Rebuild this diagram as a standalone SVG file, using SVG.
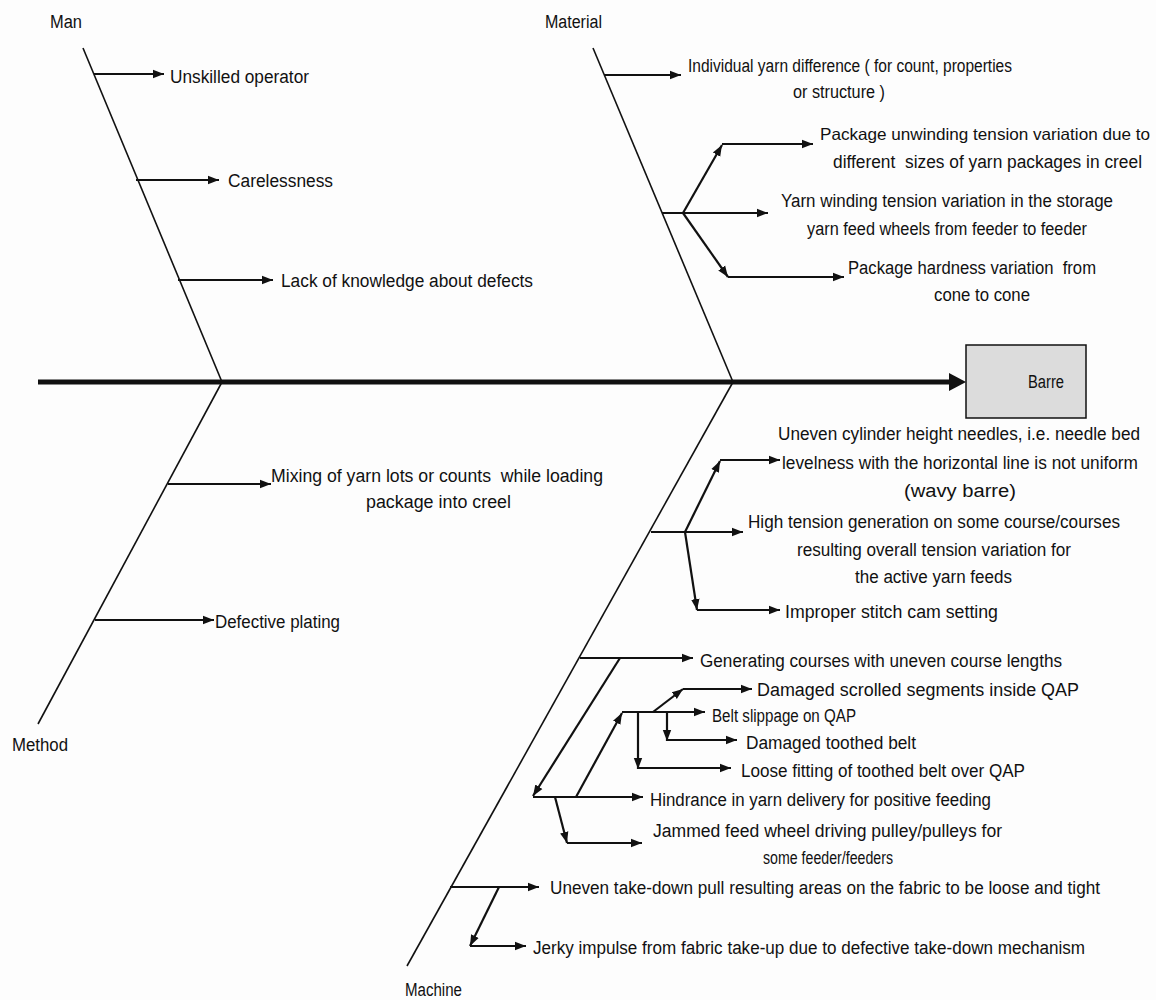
<svg xmlns="http://www.w3.org/2000/svg" width="1156" height="1000" viewBox="0 0 1156 1000">
  <style>
    .t { font-family: "Liberation Sans Narrow", "Liberation Sans", Arial, sans-serif; font-size: 18px; fill: #111; white-space: pre; }
    .sm { font-size: 16.5px; }
    .bone { stroke: #111; stroke-width: 1.6; fill: none; }
    .br { stroke: #111; stroke-width: 2.2; fill: none; marker-end: url(#ah); }
  </style>
  <defs>
    <marker id="ah" markerUnits="userSpaceOnUse" markerWidth="12" markerHeight="10" refX="11" refY="5" orient="auto">
      <path d="M0,0.8 L11,5 L0,9.2 Z" fill="#111"/>
    </marker>
  </defs>

  <rect width="1156" height="1000" fill="#fdfdfd"/>

  <!-- connectors: spine, bones and cause arrows -->
  <g id="connectors">
    <line x1="38" y1="382" x2="952" y2="382" stroke="#111" stroke-width="5"/>
    <polygon points="949,373 966,382 949,391" fill="#111"/>

    <!-- category bones -->
    <line class="bone" x1="83" y1="48" x2="222" y2="382"/>
    <line class="bone" x1="593" y1="48" x2="733" y2="382"/>
    <line class="bone" x1="222" y1="382" x2="38" y2="724"/>
    <line class="bone" x1="733" y1="382" x2="407" y2="966"/>

    <!-- Man -->
    <line class="br" x1="94" y1="74" x2="164" y2="74"/>
    <line class="br" x1="136" y1="180" x2="219" y2="180"/>
    <line class="br" x1="178" y1="280" x2="273" y2="280"/>

    <!-- Material -->
    <line class="br" x1="604" y1="75" x2="681" y2="75"/>
    <line class="br" x1="662" y1="213" x2="768" y2="213"/>
    <line class="br" x1="683" y1="213" x2="722" y2="145"/>
    <line class="br" x1="722" y1="144" x2="813" y2="144"/>
    <line class="br" x1="683" y1="213" x2="728" y2="277"/>
    <line class="br" x1="728" y1="277" x2="844" y2="277"/>

    <!-- Method -->
    <line class="br" x1="168" y1="484" x2="271" y2="484"/>
    <line class="br" x1="95" y1="620" x2="214" y2="620"/>

    <!-- Machine: needle / tension group -->
    <line class="br" x1="651" y1="532" x2="743" y2="532"/>
    <line class="br" x1="685" y1="532" x2="720" y2="461"/>
    <line class="br" x1="720" y1="460" x2="780" y2="460"/>
    <line class="br" x1="685" y1="532" x2="697" y2="610"/>
    <line class="br" x1="697" y1="610" x2="780" y2="610"/>

    <!-- Machine: course length group -->
    <line class="br" x1="580" y1="658" x2="693" y2="658"/>
    <line class="br" x1="620" y1="658" x2="533" y2="796"/>
    <line class="br" x1="533" y1="797" x2="643" y2="797"/>
    <line class="br" x1="576" y1="797" x2="622" y2="713"/>
    <line class="br" x1="622" y1="712" x2="705" y2="712"/>
    <line class="br" x1="653" y1="712" x2="683" y2="689"/>
    <line class="br" x1="683" y1="689" x2="752" y2="689"/>
    <line class="br" x1="667" y1="712" x2="667" y2="741"/>
    <line class="br" x1="667" y1="740" x2="737" y2="740"/>
    <line class="br" x1="638" y1="712" x2="638" y2="769"/>
    <line class="br" x1="638" y1="768" x2="731" y2="768"/>
    <line class="br" x1="555" y1="797" x2="567" y2="843"/>
    <line class="br" x1="567" y1="843" x2="642" y2="843"/>

    <!-- Machine: take-down group -->
    <line class="br" x1="450" y1="887" x2="539" y2="887"/>
    <line class="br" x1="499" y1="887" x2="470" y2="946"/>
    <line class="br" x1="470" y1="946" x2="526" y2="946"/>
  </g>

  <!-- effect -->
  <g id="effect-barre">
    <rect x="966" y="345" width="120" height="73" fill="#dcdcdc" stroke="#111" stroke-width="1.5"/>
    <text class="t" x="1028" y="388" textLength="36" lengthAdjust="spacingAndGlyphs">Barre</text>
  </g>

  <!-- categories -->
  <g id="cat-man"><text class="t" x="50" y="28" textLength="32" lengthAdjust="spacingAndGlyphs">Man</text></g>
  <g id="cat-material"><text class="t" x="545" y="28" textLength="57" lengthAdjust="spacingAndGlyphs">Material</text></g>
  <g id="cat-method"><text class="t" x="12" y="751" textLength="56" lengthAdjust="spacingAndGlyphs">Method</text></g>
  <g id="cat-machine"><text class="t" x="405" y="996" textLength="57" lengthAdjust="spacingAndGlyphs">Machine</text></g>

  <!-- Man causes -->
  <g id="c-unskilled"><text class="t" x="170" y="83" textLength="139" lengthAdjust="spacingAndGlyphs">Unskilled operator</text></g>
  <g id="c-careless"><text class="t" x="228" y="187" textLength="105" lengthAdjust="spacingAndGlyphs">Carelessness</text></g>
  <g id="c-knowledge"><text class="t" x="281" y="287" textLength="252" lengthAdjust="spacingAndGlyphs">Lack of knowledge about defects</text></g>

  <!-- Material causes -->
  <g id="c-yarn-diff">
    <text class="t" x="688" y="72" textLength="324" lengthAdjust="spacingAndGlyphs">Individual yarn difference ( for count, properties</text>
    <text class="t" x="793" y="98" textLength="92" lengthAdjust="spacingAndGlyphs">or structure )</text>
  </g>
  <g id="c-unwinding">
    <text class="t sm" x="820" y="140" textLength="330" lengthAdjust="spacingAndGlyphs">Package unwinding tension variation due to</text>
    <text class="t" x="833" y="168" textLength="309" lengthAdjust="spacingAndGlyphs">different  sizes of yarn packages in creel</text>
  </g>
  <g id="c-winding">
    <text class="t" x="781" y="207" textLength="332" lengthAdjust="spacingAndGlyphs">Yarn winding tension variation in the storage</text>
    <text class="t" x="807" y="235" textLength="280" lengthAdjust="spacingAndGlyphs">yarn feed wheels from feeder to feeder</text>
  </g>
  <g id="c-hardness">
    <text class="t" x="848" y="274" textLength="248" lengthAdjust="spacingAndGlyphs">Package hardness variation  from</text>
    <text class="t" x="934" y="301" textLength="96" lengthAdjust="spacingAndGlyphs">cone to cone</text>
  </g>

  <!-- Method causes -->
  <g id="c-mixing">
    <text class="t" x="271" y="482" textLength="332" lengthAdjust="spacingAndGlyphs">Mixing of yarn lots or counts  while loading</text>
    <text class="t" x="366" y="508" textLength="145" lengthAdjust="spacingAndGlyphs">package into creel</text>
  </g>
  <g id="c-plating"><text class="t" x="215" y="628" textLength="125" lengthAdjust="spacingAndGlyphs">Defective plating</text></g>

  <!-- Machine causes -->
  <g id="c-cylinder">
    <text class="t" x="778" y="440" textLength="362" lengthAdjust="spacingAndGlyphs">Uneven cylinder height needles, i.e. needle bed</text>
    <text class="t" x="782" y="469" textLength="356" lengthAdjust="spacingAndGlyphs">levelness with the horizontal line is not uniform</text>
    <text class="t" x="904" y="497" textLength="112" lengthAdjust="spacingAndGlyphs">(wavy barre)</text>
  </g>
  <g id="c-high-tension">
    <text class="t" x="748" y="528" textLength="372" lengthAdjust="spacingAndGlyphs">High tension generation on some course/courses</text>
    <text class="t" x="797" y="556" textLength="274" lengthAdjust="spacingAndGlyphs">resulting overall tension variation for</text>
    <text class="t" x="855" y="583" textLength="157" lengthAdjust="spacingAndGlyphs">the active yarn feeds</text>
  </g>
  <g id="c-stitch-cam"><text class="t" x="785" y="618" textLength="213" lengthAdjust="spacingAndGlyphs">Improper stitch cam setting</text></g>
  <g id="c-course-length"><text class="t" x="700" y="667" textLength="362" lengthAdjust="spacingAndGlyphs">Generating courses with uneven course lengths</text></g>
  <g id="c-scrolled"><text class="t" x="757" y="696" textLength="322" lengthAdjust="spacingAndGlyphs">Damaged scrolled segments inside QAP</text></g>
  <g id="c-belt-slip"><text class="t" x="712" y="722" textLength="144" lengthAdjust="spacingAndGlyphs">Belt slippage on QAP</text></g>
  <g id="c-toothed"><text class="t" x="746" y="749" textLength="170" lengthAdjust="spacingAndGlyphs">Damaged toothed belt</text></g>
  <g id="c-loose"><text class="t" x="741" y="777" textLength="284" lengthAdjust="spacingAndGlyphs">Loose fitting of toothed belt over QAP</text></g>
  <g id="c-hindrance"><text class="t" x="650" y="806" textLength="341" lengthAdjust="spacingAndGlyphs">Hindrance in yarn delivery for positive feeding</text></g>
  <g id="c-jammed">
    <text class="t" x="653" y="837" textLength="349" lengthAdjust="spacingAndGlyphs">Jammed feed wheel driving pulley/pulleys for</text>
    <text class="t" x="763" y="864" textLength="130" lengthAdjust="spacingAndGlyphs">some feeder/feeders</text>
  </g>
  <g id="c-take-down"><text class="t" x="550" y="894" textLength="550" lengthAdjust="spacingAndGlyphs">Uneven take-down pull resulting areas on the fabric to be loose and tight</text></g>
  <g id="c-jerky"><text class="t" x="533" y="954" textLength="552" lengthAdjust="spacingAndGlyphs">Jerky impulse from fabric take-up due to defective take-down mechanism</text></g>
</svg>
